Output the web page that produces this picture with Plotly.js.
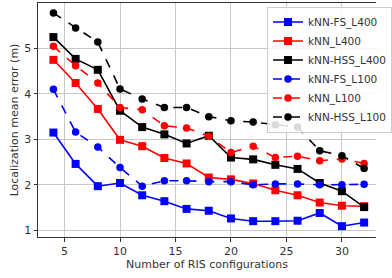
<!DOCTYPE html>
<html>
<head>
<meta charset="utf-8">
<script src="https://cdn.plot.ly/plotly-3.0.1.min.js"></script>
<style>html,body{margin:0;padding:0;background:#fff;}#chart{width:392px;height:278px;}</style>
</head>
<body>
<div id="chart"></div>
<script>
const configs = [4, 6, 8, 10, 12, 14, 16, 18, 20, 22, 24, 26, 28, 30, 32];
const fsL400  = [3.15, 2.46, 1.97, 2.04, 1.77, 1.64, 1.47, 1.43, 1.26, 1.20, 1.20, 1.21, 1.38, 1.09, 1.17];
const knnL400 = [4.75, 4.24, 3.67, 2.99, 2.85, 2.59, 2.47, 2.16, 2.12, 2.03, 1.88, 1.77, 1.61, 1.54, 1.53];
const hssL400 = [5.25, 4.77, 4.53, 3.63, 3.27, 3.11, 2.91, 3.08, 2.60, 2.56, 2.44, 2.35, 2.04, 1.86, 1.51];
const fsL100  = [4.10, 3.16, 2.83, 2.38, 1.97, 2.09, 2.09, 2.07, 2.07, 2.00, 2.02, 2.02, 2.00, 2.00, 2.01];
const knnL100 = [5.05, 4.62, 4.24, 3.70, 3.65, 3.30, 3.25, 3.07, 2.71, 2.85, 2.60, 2.63, 2.53, 2.57, 2.47];
const hssL100 = [5.78, 5.45, 5.14, 4.11, 3.89, 3.70, 3.70, 3.50, 3.41, 3.38, 3.32, 3.27, 2.75, 2.64, 2.36];
const names = ['kNN-FS_L400', 'kNN_L400', 'kNN-HSS_L400', 'kNN-FS_L100', 'kNN_L100', 'kNN-HSS_L100'];

const series = [fsL400, knnL400, hssL400, fsL100, knnL100, hssL100];
const colors = ['#0000ff', '#ff0000', '#000000', '#0000ff', '#ff0000', '#000000'];
const traces = series.map((ys, i) => {
  const dashed = i >= 3;
  return {
    x: configs, y: ys, name: names[i], type: 'scatter', mode: 'lines+markers',
    line: {color: colors[i], width: 1.6, dash: dashed ? 'dash' : 'solid'},
    marker: {color: colors[i], size: dashed ? 7.5 : 8, symbol: dashed ? 'circle' : 'square'}
  };
});

const axisCommon = {
  automargin: false,
  showgrid: true, gridcolor: '#c8c8c8', gridwidth: 1,
  zeroline: false, showline: true, linecolor: '#333333', linewidth: 1,
  ticks: 'outside', ticklen: 3.5, tickcolor: '#333333',
  tickfont: {family: 'DejaVu Sans', size: 11, color: '#333333'}
};

const layout = {
  width: 392, height: 278,
  margin: {l: 38, r: 0, t: 3, b: 41},
  paper_bgcolor: '#ffffff', plot_bgcolor: '#ffffff',
  showlegend: true,
  xaxis: Object.assign({}, axisCommon, {
    range: [2.61, 33.07], tickvals: [5, 10, 15, 20, 25, 30], mirror: true,
    title: {text: 'Number of RIS configurations', font: {family: 'DejaVu Sans', size: 11, color: '#333333'}, standoff: 2}
  }),
  yaxis: Object.assign({}, axisCommon, {
    range: [0.852, 6.0], tickvals: [1, 2, 3, 4, 5],
    title: {text: 'Localization mean error (m)', font: {family: 'DejaVu Sans', size: 11, color: '#333333'}, standoff: 3}
  }),
  legend: {
    x: 0.678, y: 0.985, xanchor: 'left', yanchor: 'top',
    bgcolor: 'rgba(255,255,255,0.85)', bordercolor: '#cccccc', borderwidth: 1,
    font: {family: 'DejaVu Sans', size: 10.5, color: '#333333'},
    itemwidth: 30, tracegroupgap: 0
  }
};

Plotly.newPlot('chart', traces, layout, {displayModeBar: false, staticPlot: true});
</script>
</body>
</html>
